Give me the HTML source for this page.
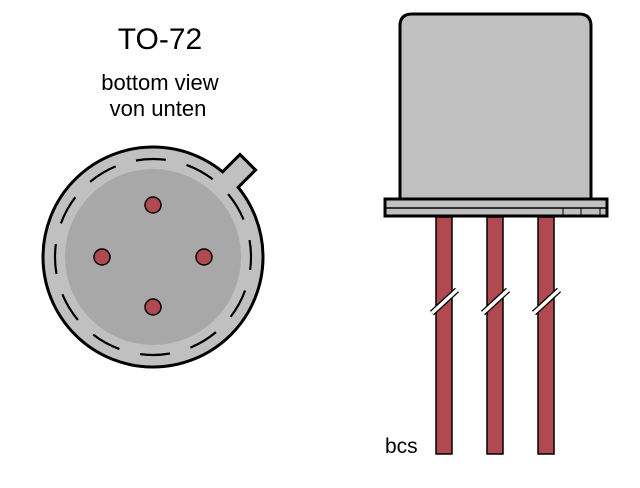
<!DOCTYPE html>
<html><head><style>body{margin:0;background:#fff}svg{display:block}</style></head><body>
<svg width="640" height="488" viewBox="0 0 640 488" xmlns="http://www.w3.org/2000/svg">
<text x="160" y="49" font-family="Liberation Sans, sans-serif" font-size="30" text-anchor="middle">TO-72</text>
<text x="160" y="90" font-family="Liberation Sans, sans-serif" font-size="22" text-anchor="middle">bottom view</text>
<text x="158" y="116" font-family="Liberation Sans, sans-serif" font-size="22" text-anchor="middle">von unten</text>
<g transform="translate(153,257) rotate(45)">
<rect x="-11" y="-134" width="22" height="30" fill="#c0c0c0" stroke="#000" stroke-width="3"/>
</g>
<circle cx="153" cy="257" r="110" fill="#c0c0c0" stroke="#000" stroke-width="3"/>
<g transform="translate(153,257) rotate(45)"><rect x="-9.5" y="-112" width="19" height="10" fill="#c0c0c0"/></g>
<circle cx="153" cy="257" r="88" fill="#a8a8a8"/>
<circle cx="153" cy="257" r="98" fill="none" stroke="#000" stroke-width="2.2" stroke-dasharray="30 21.3" transform="rotate(-100 153 257)"/>
<g fill="#b04a50" stroke="#000" stroke-width="1.5">
<circle cx="153" cy="205" r="8"/><circle cx="102" cy="257" r="8"/><circle cx="204" cy="257" r="8"/><circle cx="153" cy="307" r="8"/>
</g>
<path d="M400,198 V26 Q400,14 412,14 H579 Q591,14 591,26 V198" fill="#c0c0c0" stroke="#000" stroke-width="3"/>
<rect x="385" y="199" width="222" height="17" fill="#c0c0c0" stroke="#000" stroke-width="3"/>
<line x1="386" y1="208" x2="606" y2="208" stroke="#000" stroke-width="1.5"/>
<line x1="563" y1="208" x2="563" y2="215" stroke="#000" stroke-width="1"/>
<line x1="581" y1="208" x2="581" y2="215" stroke="#000" stroke-width="1"/>
<line x1="600" y1="208" x2="600" y2="215" stroke="#000" stroke-width="1"/>
<g fill="#b04a50" stroke="#000" stroke-width="1.5">
<rect x="436" y="217" width="16" height="237"/><rect x="487" y="217" width="16" height="237"/><rect x="538" y="217" width="16" height="237"/>
</g>
<g stroke="#000" stroke-width="6">
<path d="M432,313 L457,290 M483,313 L508,290 M534,313 L559,290"/>
</g>
<g stroke="#fff" stroke-width="3.5">
<path d="M432,313 L457,290 M483,313 L508,290 M534,313 L559,290"/>
</g>
<text x="385" y="453" font-family="Liberation Sans, sans-serif" font-size="21">bcs</text>
</svg>
</body></html>
